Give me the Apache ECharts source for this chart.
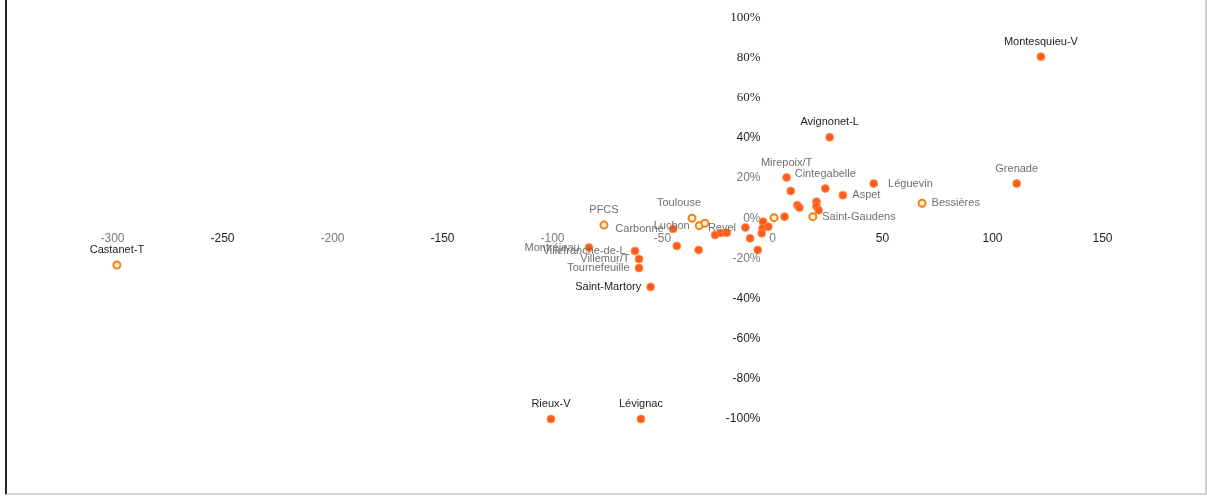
<!DOCTYPE html>
<html>
<head>
<meta charset="utf-8">
<script src="https://cdn.jsdelivr.net/npm/echarts@6/dist/echarts.min.js"></script>
<style>
html,body{margin:0;padding:0;background:#fff;}
#chart{position:absolute;left:0;top:0;width:1207px;height:497px;}
#frame{position:absolute;left:5px;top:0;width:1198px;height:493px;border-left:2px solid #222;border-right:2px solid #d0d0d0;border-bottom:2px solid #d6d6d6;pointer-events:none;}
</style>
</head>
<body>
<div id="chart"></div>
<div id="frame"></div>
<script>
// ---- data (x: value, y: %) ----
const filledNames = ['Montesquieu-V','Avignonet-L','Grenade','Léguevin','Aspet','Mirepoix/T','Cintegabelle','','','','','','','','','','','','Revel','','','','','','Carbonne','','','Montréjeau','Villefranche-de-L','Villemur/T','Tournefeuille','Saint-Martory','Rieux-V','Lévignac'];
const filledX = [122,26,111,46,32,6.4,24,8.3,11.3,12.2,20,20,21,5.5,-4.3,-4.5,-4.9,-1.9,-12.3,-10.2,-6.7,-26.1,-23.5,-20.8,-45.2,-43.5,-33.6,-83.4,-62.5,-60.7,-60.7,-55.4,-100.7,-59.8];
const filledY = [80.5,40.3,17.3,17.3,11.5,20.3,14.8,13.6,6.5,5.3,8.2,6,4,0.8,-1.7,-5,-7.5,-4.2,-4.6,-10,-15.8,-8.3,-7.3,-7.2,-5.3,-13.8,-15.8,-14.6,-16.3,-20.3,-24.8,-34.2,-100,-100];

const hollowNames = ['Castanet-T','Bessières','Saint-Gaudens','','Toulouse','Luchon','','PFCS'];
const hollowX = [-298,68,18.3,0.7,-36.6,-33.3,-30.7,-76.6];
const hollowY = [-23.3,7.5,0.8,0.3,0,-3.7,-2.5,-3.4];

const xTicks = [-300,-250,-200,-150,-100,-50,0,50,100,150];
const yTicks = [-100,-80,-60,-40,-20,0,20,40,60,80,100];

// ---- styling (not data) ----
const darkLabels = ['Castanet-T','Montesquieu-V','Avignonet-L','Saint-Martory','Rieux-V','Lévignac'];
const labelPos = {
  'Léguevin':'right','Aspet':'right','Bessières':'right','Saint-Gaudens':'right',
  'Revel':'left','Carbonne':'left','Luchon':'left','Montréjeau':'left',
  'Villefranche-de-L':'left','Villemur/T':'left','Tournefeuille':'left','Saint-Martory':'left'
};
const labelOffset = {'Toulouse':[-13,0],'Léguevin':[5,0]};
const darkX = [-250,-150,50,100,150];
const darkY = [100,80,60,40,-40,-60,-80,-100];
const serifY = [100,80,60];

const W = 1207, H = 497;
const grid = { left: 112.5, right: 104.5, top: 17.5, bottom: 78 };
const xMin = -300, xMax = 150, yMin = -100, yMax = 100;
const gridW = W - grid.left - grid.right;
const gridH = H - grid.top - grid.bottom;
// place axes through the origin (axes cross at zero)
const xAxisOffset = -gridH * (0 - yMin) / (yMax - yMin);
const yAxisOffset = -gridW * (0 - xMin) / (xMax - xMin);

function buildItems(names, xs, ys) {
  return names.map((n, i) => {
    const item = { name: n, value: [xs[i], ys[i]] };
    if (n) {
      item.label = {
        show: true,
        formatter: n,
        position: labelPos[n] || 'top',
        offset: labelOffset[n] || [0, 0],
        color: darkLabels.includes(n) ? '#1e1e1e' : '#707070',
        fontSize: 11,
        fontFamily: 'Liberation Sans'
      };
    }
    return item;
  });
}

const chart = echarts.init(document.getElementById('chart'));
chart.setOption({
  animation: false,
  backgroundColor: '#fff',
  grid: grid,
  xAxis: {
    type: 'value', min: xMin, max: xMax, interval: 50,
    position: 'bottom', offset: xAxisOffset,
    axisLine: { show: false, onZero: false },
    axisTick: { show: false },
    splitLine: { show: false },
    axisLabel: {
      margin: 14,
      formatter: v => xTicks.includes(v) ? (darkX.includes(v) ? '{d|' + v + '}' : '{g|' + v + '}') : '',
      rich: {
        d: { color: '#1e1e1e', fontSize: 12, fontFamily: 'Liberation Sans' },
        g: { color: '#7a7a7a', fontSize: 12, fontFamily: 'Liberation Sans' }
      }
    }
  },
  yAxis: {
    type: 'value', min: yMin, max: yMax, interval: 20,
    position: 'left', offset: yAxisOffset,
    axisLine: { show: false, onZero: false },
    axisTick: { show: false },
    splitLine: { show: false },
    axisLabel: {
      margin: 12,
      formatter: v => {
        if (!yTicks.includes(v)) return '';
        const t = v + '%';
        if (serifY.includes(v)) return '{s|' + t + '}';
        return darkY.includes(v) ? '{d|' + t + '}' : '{g|' + t + '}';
      },
      rich: {
        s: { color: '#1e1e1e', fontSize: 13, fontFamily: 'Liberation Serif' },
        d: { color: '#1e1e1e', fontSize: 12, fontFamily: 'Liberation Sans' },
        g: { color: '#7a7a7a', fontSize: 12, fontFamily: 'Liberation Sans' }
      }
    }
  },
  series: [
    {
      name: 'filled', type: 'scatter', symbol: 'circle', symbolSize: 8,
      itemStyle: { color: '#ff5a24', borderColor: '#ff9a3c', borderWidth: 0.8, opacity: 1 },
      data: buildItems(filledNames, filledX, filledY)
    },
    {
      name: 'hollow', type: 'scatter', symbol: 'circle', symbolSize: 7,
      itemStyle: { color: '#fff6c8', borderColor: '#f2801e', borderWidth: 2, opacity: 1 },
      data: buildItems(hollowNames, hollowX, hollowY)
    }
  ]
});
</script>
</body>
</html>
